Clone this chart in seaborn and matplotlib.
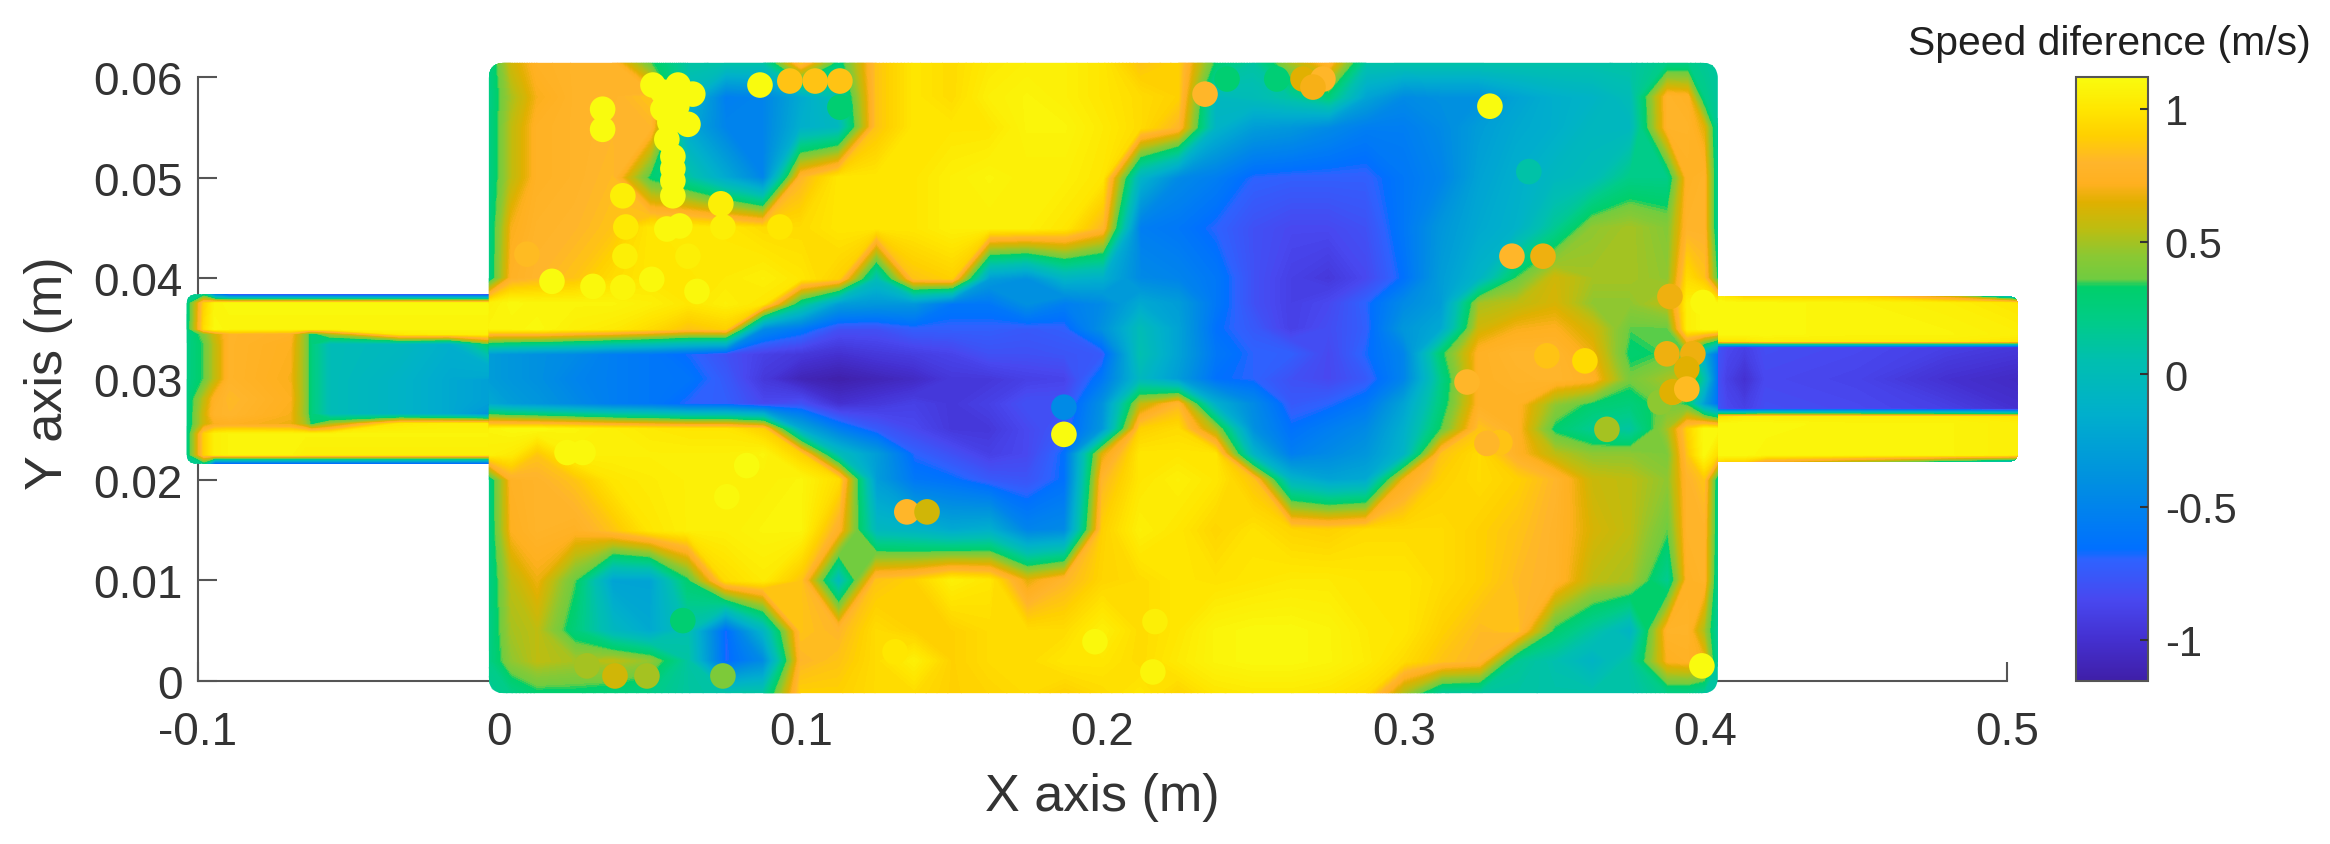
import numpy as np
import pandas as pd
import matplotlib
matplotlib.use("Agg")
import matplotlib.pyplot as plt
import seaborn as sns
from matplotlib.colors import LinearSegmentedColormap, Normalize
from matplotlib.cm import ScalarMappable
from matplotlib.patches import FancyBboxPatch

# ---------- axis labels and ticks ----------
x_ticks = [-0.1, 0, 0.1, 0.2, 0.3, 0.4, 0.5]
x_tick_labels = ["-0.1", "0", "0.1", "0.2", "0.3", "0.4", "0.5"]
y_ticks = [0, 0.01, 0.02, 0.03, 0.04, 0.05, 0.06]
y_tick_labels = ["0", "0.01", "0.02", "0.03", "0.04", "0.05", "0.06"]
cbar_ticks = [-1, -0.5, 0, 0.5, 1]
cbar_tick_labels = ["-1", "-0.5", "0", "0.5", "1"]
speed_min, speed_max = -1.156, 1.12

# ---------- colour scale ----------
scale_values = [-1.156, -1.0, -0.85, -0.70, -0.66, -0.4, -0.15, 0.05, 0.2, 0.33, 0.36, 0.45, 0.55, 0.65, 0.72, 0.8, 0.9, 1.0, 1.12]
scale_colors = ["#3F1FA8", "#4430D0", "#4848F0", "#2E62FF", "#0070FF", "#0090E0", "#00AFCC", "#00BFB0", "#00CC88",
                "#00CF6A", "#70CC40", "#8CC832", "#BDBD10", "#E0B000", "#FFB020", "#FFB52B", "#FFD000", "#FFE600", "#F9FB0E"]

# ---------- chamber field (m/s) ----------
chamber_x = [-0.0035, 0.004, 0.0125, 0.025, 0.0375, 0.05, 0.0625, 0.075, 0.0875, 0.1, 0.1125, 0.125, 0.1375, 0.15,
             0.1625, 0.175, 0.1875, 0.2, 0.2125, 0.225, 0.2375, 0.25, 0.2625, 0.275, 0.2875, 0.3, 0.3125, 0.325,
             0.3375, 0.35, 0.3625, 0.375, 0.3875, 0.394, 0.3995, 0.404]
chamber_y = [0.0614, 0.058, 0.055, 0.05, 0.045, 0.04, 0.0375, 0.035, 0.0325, 0.03, 0.0275, 0.025, 0.0225, 0.02,
             0.015, 0.01, 0.005, 0.002, -0.0012]
ch00 = [.20,.60,.75,.78,.78,.35,.10,.08,.08,.85,.25,.85,1.0,.95,1.02,1.05,1.05,1.0,.85,.90,.30,.10,.50,.78,.08,.08,.08,.08,.08,.08,.08,.10,.20,.20,.15,.12]
ch01 = [.20,.50,.70,.78,.78,.85,-.05,-.55,-.50,-.20,.05,.85,1.0,.95,1.05,1.08,1.05,1.0,.95,.90,-.05,0,.10,.25,-.25,-.45,-.40,-.40,-.25,-.15,-.10,0,.78,.75,.20,.12]
ch02 = [.20,.55,.75,.78,.80,.80,-.20,-.50,-.50,-.15,-.05,.85,1.0,1.0,1.0,1.08,1.08,1.02,.95,.80,-.10,-.30,-.35,-.45,-.55,-.55,-.45,-.30,-.20,-.15,-.05,-.05,.78,.78,.65,.12]
ch03 = [.20,.55,.75,.78,.82,.30,.10,-.20,-.50,.80,1.0,1.0,1.0,1.05,1.08,1.05,1.05,1.0,-.10,-.45,-.55,-.70,-.72,-.72,-.72,-.60,-.50,-.25,-.15,-.05,0,.20,.20,.75,.78,.15]
ch04 = [.20,.70,.78,.80,.85,1.0,1.02,1.0,.95,.95,1.0,1.0,1.0,1.05,1.05,1.05,1.0,.80,-.55,-.60,-.70,-.80,-.85,-.85,-.80,-.60,-.35,-.20,-.12,.15,.45,.50,.42,.78,.78,.15]
ch05 = [.20,.75,.80,.85,.95,1.0,1.0,1.02,1.05,1.0,.90,0,.85,.90,-.30,-.40,-.10,-.15,-.45,-.50,-.60,-.80,-.90,-.95,-.85,-.65,-.30,-.10,.35,.60,.50,.50,.45,.95,.85,.30]
ch06 = [1.05,1.10,1.08,1.08,1.08,1.05,1.0,1.05,1.0,.20,-.30,-.35,-.35,-.60,-.60,-.40,-.55,-.45,-.20,-.30,-.60,-.80,-.90,-.85,-.70,-.45,-.30,.50,.55,.62,.45,.45,.55,1.05,1.10,1.10]
ch07 = [1.08,1.08,1.10,1.05,1.02,.95,.85,.90,-.45,-.60,-.80,-.80,-.72,-.72,-.72,-.75,-.72,-.40,0,-.25,-.65,-.75,-.90,-.82,-.72,-.35,-.20,.60,.70,.72,.60,.35,.35,1.05,1.10,1.10]
ch08 = [-.30,-.35,-.40,-.45,-.55,-.60,-.68,-.80,-.90,-.95,-1.0,-.95,-.92,-.88,-.80,-.80,-.78,-.75,.05,-.25,-.60,-.70,-.72,-.85,-.68,-.50,.30,.75,.80,.80,.68,.30,.35,.35,-.20,-.65]
ch09 = [-.30,-.35,-.40,-.50,-.55,-.60,-.62,-.75,-.95,-1.10,-1.15,-1.10,-1.05,-.95,-.95,-.90,-.88,-.60,-.05,-.30,-.65,-.70,-.80,-.85,-.75,-.50,.20,.75,.78,.80,.75,.38,.50,.60,.05,-.65]
ch10 = [-.20,-.30,-.35,-.45,-.55,-.60,-.70,-.72,-.85,-.80,-1.0,-.95,-.90,-.95,-.90,-.80,-.80,-.40,.55,.80,-.15,-.45,-.75,-.70,-.60,-.25,.25,.75,.75,.45,.30,.25,.40,.30,-.30,-.65]
ch11 = [1.08,1.10,1.10,1.08,1.05,1.02,1.0,1.0,.90,-.20,-.55,-.75,-.85,-.95,-.95,-.85,-.75,-.35,.90,.95,.50,-.40,-.65,-.55,-.45,-.15,.35,.85,.75,.30,.15,.10,.50,.90,1.10,1.10]
ch12 = [1.05,1.02,.85,1.05,1.05,1.05,1.05,1.05,1.08,.90,0,-.30,-.70,-.80,-.90,-.85,-.65,.65,1.0,1.0,1.0,-.10,-.55,-.45,-.35,-.10,.85,.95,.75,.55,.45,.45,.40,.85,1.10,.95]
ch13 = [.20,.75,.78,.85,1.0,1.03,1.05,1.05,1.05,1.08,.95,-.30,-.60,-.65,-.75,-.78,-.65,.80,1.0,1.05,1.0,.85,-.10,-.25,-.20,.70,.90,.95,.90,.80,.58,.55,.45,.78,.85,.20]
ch14 = [.20,.72,.78,.75,.85,1.0,1.05,1.05,1.08,1.08,.75,-.05,-.10,-.20,-.15,-.50,-.45,.90,1.05,1.0,.92,.98,.92,.90,.95,.95,.95,.90,.85,.78,.62,.55,.35,.78,.78,.20]
ch15 = [.20,.55,.68,.35,-.25,-.25,.30,.95,1.02,.85,-.05,.85,.90,1.05,1.0,.65,.80,.92,.95,1.0,.98,1.0,1.02,1.02,1.0,1.0,.95,.90,.82,.78,.55,.50,.15,.75,.78,.15]
ch16 = [.20,.50,.55,.25,-.05,-.20,.05,-.70,-.10,.85,.80,.95,.90,.90,.95,.95,.95,1.05,.95,1.0,1.08,1.10,1.10,1.08,1.02,1.0,.90,.82,.85,.30,.10,-.10,.78,.78,.50,.12]
ch17 = [.20,.45,.55,.50,.55,.45,.10,-.70,-.45,.80,.85,.95,1.05,.90,.95,.95,1.0,1.0,.95,1.02,1.08,1.10,1.10,1.08,1.03,.95,.85,.80,.15,.05,-.10,.10,.72,.75,.70,.12]
ch18 = [.15,.20,.30,.30,.25,.20,.12,.08,.10,.90,.90,.95,.95,.90,.92,.95,.90,.95,1.0,.92,1.0,1.02,1.02,1.0,.95,.50,.12,.10,.10,.08,.08,.08,.20,.20,.12,.10]
chamber_rows = [ch00, ch01, ch02, ch03, ch04, ch05, ch06, ch07, ch08, ch09, ch10, ch11, ch12, ch13, ch14, ch15, ch16, ch17, ch18]

# ---------- inlet duct ----------
inlet_x = [-.1037, -.098, -.0944, -.0894, -.0695, -.0645, -.0625, -.0562, -.033, -.0165, .002]
inlet_y = [.0384, .0375, .035, .0345, .0335, .030, .028, .0265, .0255, .0245, .0225, .0216]
in00 = [.15,.20,-.60,-.90,-.90,-.90,-.90,-.90,-.90,-.90,-.90]
in01 = [.20,.90,1.08,1.10,1.10,1.10,1.10,1.10,1.10,1.10,1.10]
in02 = [.20,.95,1.10,1.08,1.08,1.08,1.08,1.08,1.08,1.08,1.08]
in03 = [.20,.40,.60,.78,.75,.45,.25,.50,1.02,1.05,1.05]
in04 = [.20,.35,.55,.78,.72,.45,.25,0,-.05,-.15,.50]
in05 = [.20,.35,.55,.78,.70,.45,.25,0,-.10,-.20,-.30]
in06 = [.20,.55,.75,.82,.72,.45,.25,0,-.10,-.20,-.30]
in07 = [.20,.60,.78,.80,.70,.45,.25,0,-.10,-.20,-.50]
in08 = [.20,.60,.70,.72,.68,.50,.30,.50,1.02,1.05,1.05]
in09 = [.20,.90,1.05,1.08,1.08,1.08,1.08,1.08,1.08,1.08,1.08]
in10 = [.20,.90,1.05,1.08,1.08,1.05,1.05,1.05,1.05,1.05,1.05]
in11 = [.15,.20,-.80,-.80,-.80,-.80,-.80,-.80,-.80,-.80,-.80]
inlet_rows = [in00, in01, in02, in03, in04, in05, in06, in07, in08, in09, in10, in11]

# ---------- outlet duct ----------
outlet_x = [.399, .407, .413, .42, .45, .48, .5036]
outlet_y = [.0382, .0375, .0345, .0338, .0332, .030, .027, .0262, .0255, .0225, .0218]
ou00 = [1.10,1.0,.90,.90,.90,.60,-.20]
ou01 = [1.10,1.10,1.10,1.10,1.08,1.05,1.0]
ou02 = [1.10,1.10,1.10,1.10,1.08,1.08,1.05]
ou03 = [.90,1.0,1.0,1.05,1.05,1.05,1.0]
ou04 = [-.65,-.85,-.90,-.82,-.85,-.90,-.95]
ou05 = [-.65,-.90,-1.0,-.85,-.88,-1.0,-1.05]
ou06 = [-.65,-.85,-.90,-.82,-.85,-.90,-1.0]
ou07 = [.90,1.0,1.05,1.05,1.05,1.05,1.0]
ou08 = [1.10,1.10,1.10,1.10,1.08,1.08,1.05]
ou09 = [1.10,1.10,1.10,1.08,1.08,1.08,1.05]
ou10 = [1.0,.90,.90,.70,.50,.20,-.10]
outlet_rows = [ou00, ou01, ou02, ou03, ou04, ou05, ou06, ou07, ou08, ou09, ou10]

# ---------- individually visible scatter points ----------
point_x = [.0091,.1351,.1418,.3461,.3358,.3414,.2413,.2578,.2665,.2731,.2698,.234,.0963,.1047,.1129,.1129,.3209,.3474,.36,
           .3882,.3849,.3872,.3958,.3892,.3889,.3938,.3938,.3673,.3318,.3275,.0608,.0741,.029,.0383,.0489,
           .0174,.0505,.031,.0409,.0655,.0224,.0277,.0864,.0342,.0342,.0509,.0592,.0641,.0542,.0625,.0555,.0575,.0575,.0575,
           .0409,.0419,.0555,.0598,.0741,.0734,.0416,.0625,.093,.082,.0754,.1872,.1872,.3285,.3992,.3988,.1312,.1975,.2174,.2167,
           .0588,.0565,.0542,.0575]
point_y = [.0424,.0168,.0168,.0422,.0422,.0506,.0598,.0598,.0598,.0598,.059,.0583,.0596,.0596,.0596,.057,.0297,.0323,.0318,
           .0382,.0277,.0325,.0325,.0287,.0287,.031,.029,.025,.0237,.0236,.006,.0005,.0015,.0005,.0005,
           .0397,.0399,.0392,.0391,.0387,.0227,.0227,.0592,.0568,.0548,.0592,.0592,.0583,.0568,.0553,.0538,.0509,.0497,.0482,
           .0482,.0451,.0449,.0452,.0451,.0474,.0422,.0422,.0451,.0214,.0183,.0272,.0245,.0571,.0376,.0015,.0029,.0039,.0059,.0009,
           .0571,.0555,.0585,.0521]
point_v = [.82,.80,.60,.68,.80,.08,.30,.28,.65,.80,.70,.80,.85,.85,.85,.30,.80,.85,.95,
           .68,.45,.68,.68,.68,.65,.65,.82,.50,.85,.80,.30,.40,.50,.60,.50,
           1.12,1.10,1.10,1.08,1.10,1.10,1.10,1.12,1.12,1.12,1.12,1.12,1.12,1.12,1.12,1.12,1.12,1.12,1.12,
           1.05,1.02,1.10,1.10,1.05,1.05,1.05,1.05,1.0,1.12,1.10,-.45,1.12,1.12,1.10,1.12,1.0,1.10,1.05,1.08,
           1.12,1.12,1.12,1.12]

# ---------- figure ----------
sns.set_theme(style="ticks")
plt.rcParams["font.family"] = ["Liberation Sans", "DejaVu Sans"]
plt.rcParams["axes.unicode_minus"] = False
plt.rcParams["text.color"] = "#333333"

W, H = 2330, 845
fig = plt.figure(figsize=(W / 100, H / 100), dpi=100, facecolor="white")
ax = fig.add_axes([198 / W, 1 - 682 / H, 1809 / W, 604 / H])
cax = fig.add_axes([2076 / W, 1 - 682 / H, 72 / W, 604 / H])

norm = Normalize(speed_min, speed_max)
cmap = LinearSegmentedColormap.from_list(
    "speed",
    [((v - speed_min) / (speed_max - speed_min), c) for v, c in zip(scale_values, scale_colors)],
    N=512,
)
levels = np.linspace(speed_min, speed_max, 160)
aspect_ratio = (1 / 10067) / (1 / 3015)


def draw_field(xs, ys, rows, radius, order):
    """Field in one part of the duct, clipped to a rounded outline."""
    z = np.array(rows, dtype=float)[::-1]
    yy = np.array(ys)[::-1]
    cs = ax.contourf(xs, yy, z, levels=levels, cmap=cmap, norm=norm, extend="both", zorder=order)
    cs.set_edgecolor("face")
    cs.set_linewidth(0.4)
    outline = FancyBboxPatch((xs[0], yy[0]), xs[-1] - xs[0], yy[-1] - yy[0],
                             boxstyle=f"round,pad=0,rounding_size={radius}", mutation_aspect=aspect_ratio,
                             transform=ax.transData, facecolor="none", edgecolor="none")
    cs.set_clip_box(None)
    cs.set_clip_path(outline)


draw_field(inlet_x, inlet_y, inlet_rows, 0.003, 3)
draw_field(outlet_x, outlet_y, outlet_rows, 0.003, 3)
draw_field(chamber_x, chamber_y, chamber_rows, 0.005, 3.2)

points = pd.DataFrame({"x": point_x, "y": point_y, "speed": point_v})
sns.scatterplot(data=points, x="x", y="y", hue="speed", palette=cmap, hue_norm=norm, s=340, linewidth=0,
                legend=False, ax=ax, zorder=4, clip_on=False)

ax.set_xlim(-0.1, 0.5)
ax.set_ylim(0, 0.06)
ax.set_xticks(x_ticks, x_tick_labels)
ax.set_yticks(y_ticks, y_tick_labels)
sns.despine(ax=ax)
for side in ("left", "bottom"):
    ax.spines[side].set_color("#555555")
    ax.spines[side].set_linewidth(1.5)
ax.tick_params(direction="in", length=14, width=1.5, color="#555555", labelcolor="#333333", labelsize=33)
ax.tick_params(axis="x", pad=21)
ax.tick_params(axis="y", pad=11)
ax.set_xlabel("X axis (m)", fontsize=37.5, color="#333333", va="center")
ax.set_ylabel("Y axis (m)", fontsize=37.5, color="#333333", va="center")
ax.xaxis.set_label_coords((1102 - 198) / 1809, -(797 - 682) / 604)
ax.yaxis.set_label_coords((49 - 198) / 1809, (682 - 373) / 604)

cbar = fig.colorbar(ScalarMappable(norm=norm, cmap=cmap), cax=cax, ticks=cbar_ticks)
cbar.ax.set_yticklabels(cbar_tick_labels)
cbar.outline.set_edgecolor("#555555")
cbar.outline.set_linewidth(1.5)
cax.set_axisbelow(False)
cax.tick_params(direction="in", length=6, width=1.5, color="#333333", labelcolor="#333333", labelsize=30, pad=12)
fig.text(2109 / W, 1 - 44 / H, "Speed diference (m/s)", fontsize=29.4, color="#202020", ha="center", va="center")

fig.savefig("out.png", dpi=100, facecolor="white")
